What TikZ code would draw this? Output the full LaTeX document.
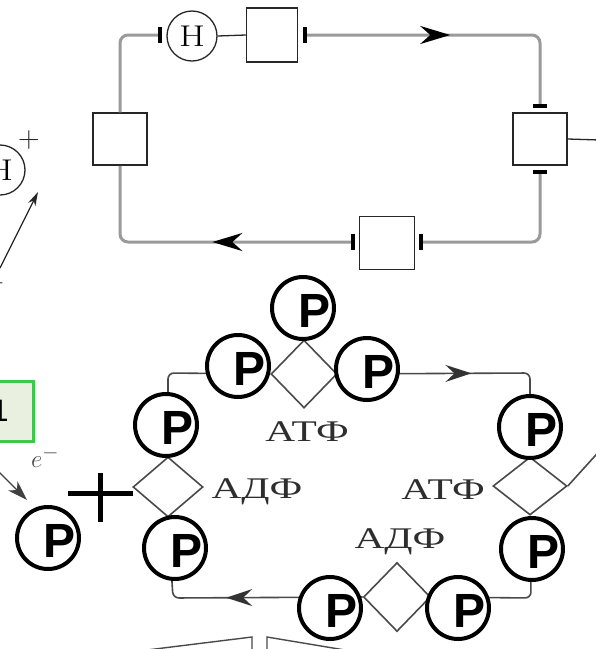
\documentclass[tikz,border=0pt]{standalone}
\usepackage{fontspec}
\setmainfont{Liberation Serif}
\newfontfamily\psans{Liberation Sans}
\newfontfamily\lmfont{Latin Modern Roman}
\usetikzlibrary{shapes.geometric,arrows.meta,decorations.markings}
\definecolor{loopgray}{HTML}{9A9A9A}
\definecolor{linedark}{HTML}{4A4A4A}
\definecolor{txtgray}{HTML}{2E2E2E}
\definecolor{gboxfill}{HTML}{E9F0DF}
\definecolor{gboxdraw}{HTML}{3DC74F}
\tikzset{
  loopline/.style={draw=loopgray, line width=3pt},
  blkbox/.style={draw=black!85, line width=1.5pt, fill=white, minimum width=52pt, minimum height=52pt, inner sep=0pt},
  tickbar/.style={draw=black, line width=3.2pt},
  hcirc/.style={circle, draw=black!85, line width=1.3pt, minimum size=50pt, inner sep=0pt, font=\lmfont\fontsize{30}{30}\selectfont},
  pcirc/.style={circle, draw=black, line width=4pt, fill=white, minimum size=62pt, inner sep=0pt},
  ptext/.style={font=\psans\bfseries\fontsize{48}{48}\selectfont, inner sep=0pt},
  dia/.style={diamond, draw=linedark, line width=1.6pt, minimum width=68pt, minimum height=64pt, inner sep=0pt},
  bline/.style={draw=linedark, line width=1.6pt},
  thinblk/.style={draw=black!85, line width=1.3pt},
  lbl/.style={font=\fontsize{30}{30}\selectfont, text=txtgray, inner sep=0pt, anchor=base},
  bigarrow/.style={postaction=decorate, decoration={markings, mark=at position #1 with {\arrow[black]{Stealth[length=30pt,width=18pt,inset=10pt]}}}},
  smallarrow/.style={postaction=decorate, decoration={markings, mark=at position #1 with {\arrow[black!80]{Stealth[length=26pt,width=17pt,inset=9pt]}}}},
}
\newcommand\PCirc[3]{%
  \node[pcirc] (#1) at (#2,#3) {};
  \node[ptext] (#1t) at ([shift={(12,3)}]#1.center) {P};}
\newcommand\Lab[2]{\scalebox{1.38}[1]{#2}}
\begin{document}
\begin{tikzpicture}[x=1pt,y=-1pt]
\useasboundingbox (0,0) rectangle (596,649);
\clip (0,0) rectangle (596,649);
\fill[white] (0,0) rectangle (596,649);

% ---------- upper loop ----------
\node[blkbox, minimum width=51pt, minimum height=54pt] (sq1) at (272,35) {};
\node[hcirc] (h) at (192,36) {\scalebox{1.25}[1]{H}};
\node[blkbox, minimum width=54pt] (sqR) at (540,139) {};
\node[blkbox, minimum width=55pt, minimum height=53pt] (sqB) at (387,243) {};
\node[blkbox, minimum width=54pt] (sqL) at (120,139) {};

\coordinate (tkA) at (160,35);
\coordinate (tkB) at (305,35);
\coordinate (tkC) at (540,106);
\coordinate (tkD) at (540,172);
\coordinate (tkE) at (421,242);
\coordinate (tkF) at (353,242);
\coordinate (offR) at (600,140);

\draw[loopline, rounded corners=8pt] (sqL.north) |- (tkA);
\draw[loopline, rounded corners=8pt, bigarrow=0.48] (tkB) -| (tkC);
\draw[loopline, rounded corners=8pt] (tkD) |- (tkE);
\draw[loopline, rounded corners=8pt, bigarrow=0.46] (tkF) -| (sqL.south);

\draw[tickbar] ([yshift=-8pt]tkA) -- ([yshift=8pt]tkA);
\draw[tickbar] ([yshift=-8pt]tkB) -- ([yshift=8pt]tkB);
\draw[tickbar] ([xshift=-7pt]tkC) -- ([xshift=7pt]tkC);
\draw[tickbar] ([xshift=-7pt]tkD) -- ([xshift=7pt]tkD);
\draw[tickbar] ([yshift=-8pt]tkE) -- ([yshift=8pt]tkE);
\draw[tickbar] ([yshift=-8pt]tkF) -- ([yshift=8pt]tkF);

\draw[thinblk] (h.east) -- (sq1.west);
\draw[thinblk] (sqR.east) -- (offR);

% ---------- left fragment ----------
\node[hcirc] (hL) at (0,170) {\scalebox{1.25}[1]{H}};
\node[font=\lmfont\fontsize{30}{30}\selectfont, text=black!85, inner sep=0pt] (plusH) at (29,140) {+};
\coordinate (aS) at (0,268);
\coordinate (aE) at (38,192);
\draw[thinblk, -{Stealth[length=14pt,width=8pt]}] (aS) -- (aE);
\node[font=\lmfont\fontsize{30}{30}\selectfont, text=black!85, inner sep=0pt] (minusL) at (-5,283) {$-$};

\node[draw=gboxdraw, fill=gboxfill, line width=3pt, minimum width=60pt, minimum height=60pt, inner sep=0pt,
      font=\psans\fontsize{31}{31}\selectfont] (gbox) at (3,411) {\hspace*{-6pt}\raisebox{-5pt}{1}};

\node[font=\fontsize{28}{28}\selectfont, text=black!70, inner sep=0pt] (elec) at (45,457) {$e^{-}$};
\coordinate (eS) at (-12,461);
\coordinate (eE) at (27,500);
\draw[draw=black!75, line width=1.2pt, -{Stealth[length=20pt,width=13pt,inset=6pt]}] (eS) -- (eE);

\draw[line width=5pt] (68,493) -- (133,493);
\draw[line width=5pt] (100,473) -- (100,522);

% ---------- lower loop ----------
\node[dia, minimum width=66pt, minimum height=68pt] (dT) at (304,374) {};
\node[dia, minimum width=70pt, minimum height=60pt] (dL) at (168,487) {};
\node[dia, minimum width=74pt, minimum height=58pt] (dR) at (530,486) {};
\node[dia, minimum width=67pt, minimum height=69pt] (dB) at (397,597) {};

\coordinate (cTL) at (168,373);
\coordinate (cTR) at (530,373);
\coordinate (cBR) at (531,598);
\coordinate (cBL) at (173,598);
\coordinate (offNE) at (604,446);

\draw[bline, rounded corners=6pt] (dL.north) -- (cTL) -- (dT.west);
\draw[bline, rounded corners=6pt, smallarrow=0.49] (dT.east) -- (cTR) -- (dR.north);
\draw[bline, rounded corners=6pt] (dR.south) -- (cBR) -- (dB.east);
\draw[bline, rounded corners=6pt, smallarrow=0.51] (dB.west) -- (cBL) -- (dL.south);
\draw[bline] (dR.east) -- (offNE);

% bottom edge fragment
\coordinate (bA) at (147,650);
\coordinate (bB) at (252,637);
\coordinate (bC) at (252,652);
\coordinate (bD) at (267,652);
\coordinate (bE) at (267,637);
\coordinate (bF) at (345,650);
\draw[bline, line width=1.4pt] (bA) -- (bB) -- (bC);
\draw[bline, line width=1.4pt] (bD) -- (bE) -- (bF);

% labels
\node[lbl] (l1) at (307,441) {\Lab{}{АТФ}};
\node[lbl] (l2) at (257,498) {\Lab{}{АДФ}};
\node[lbl] (l3) at (443,499) {\Lab{}{АТФ}};
\node[lbl] (l4) at (400,548) {\Lab{}{АДФ}};

% phosphate circles
\PCirc{p1}{303}{308}
\PCirc{p2}{238}{366}
\PCirc{p3}{367}{369}
\PCirc{p4}{166}{425}
\PCirc{p5}{175}{548}
\PCirc{p6}{48}{538}
\PCirc{p7}{530}{427}
\PCirc{p8}{532}{549}
\PCirc{p9}{330}{608}
\PCirc{p10}{458}{608}
\end{tikzpicture}
\end{document}
